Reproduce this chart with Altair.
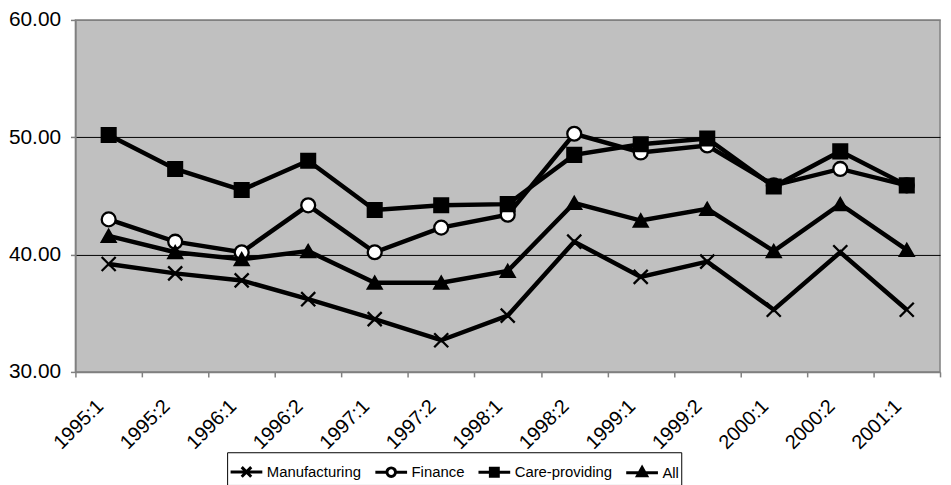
import altair as alt
import pandas as pd

categories = ["1995:1", "1995:2", "1996:1", "1996:2", "1997:1", "1997:2", "1998:1",
              "1998:2", "1999:1", "1999:2", "2000:1", "2000:2", "2001:1"]
series_names = ["Manufacturing", "Finance", "Care-providing", "All"]
manufacturing = [39.2, 38.4, 37.8, 36.2, 34.5, 32.7, 34.8, 41.1, 38.1, 39.4, 35.3, 40.2, 35.3]
finance = [43.0, 41.1, 40.2, 44.2, 40.2, 42.3, 43.4, 50.3, 48.7, 49.3, 45.9, 47.3, 45.9]
care = [50.2, 47.3, 45.5, 48.0, 43.8, 44.2, 44.3, 48.5, 49.4, 49.9, 45.8, 48.8, 45.9]
all_sectors = [41.6, 40.2, 39.6, 40.3, 37.6, 37.6, 38.6, 44.4, 42.9, 43.9, 40.3, 44.3, 40.4]

rows = []
for name, vals in zip(series_names, [manufacturing, finance, care, all_sectors]):
    for c, v in zip(categories, vals):
        rows.append({"period": c, "series": name, "value": v})
df = pd.DataFrame(rows)

font = "Liberation Sans"

x_enc = alt.X(
    "period:O", sort=categories,
    scale=alt.Scale(type="band", paddingInner=0, paddingOuter=0),
    bandPosition=0.5,
    axis=alt.Axis(title=None, labelAngle=-45, labelAlign="right", labelBaseline="middle",
                  labelFontSize=20, labelFont=font, labelColor="black",
                  labelPadding=26, labelOffset=-9, tickBand="extent",
                  tickColor="#808080", tickSize=5, tickWidth=1.5,
                  domainColor="#808080", domainWidth=1.5, grid=False),
)
y_enc = alt.Y(
    "value:Q",
    scale=alt.Scale(domain=[30, 60], nice=False, zero=False),
    axis=alt.Axis(title=None, values=[30, 40, 50, 60], format=".2f",
                  labelFontSize=21, labelFont=font, labelColor="black", labelPadding=10,
                  tickColor="#808080", tickSize=5, tickWidth=1.5,
                  domainColor="#808080", domainWidth=1.5,
                  grid=True, gridWidth=1,
                  gridColor={"condition": {"test": "datum.value == 60 || datum.value == 30",
                                           "value": "#808080"}, "value": "black"}),
)

marker_shapes = ["M-1,-1L1,1M-1,1L1,-1", "circle", "square", "triangle-up"]
marker_fills = ["transparent", "white", "black", "black"]
marker_sizes = [200, 190, 170, 210]

# legend symbols: connecting line + marker (filled markers drawn with strokes)
legend_shapes = [
    "M-1,0H1M-0.3,-0.3L0.3,0.3M-0.3,0.3L0.3,-0.3",
    "M-1,0H-0.27M0.27,0H1M-0.27,0A0.27,0.27,0,1,0,0.27,0A0.27,0.27,0,1,0,-0.27,0Z",
    "M-1,0H1M-0.25,-0.25H0.25V0.25H-0.25ZM-0.25,-0.1H0.25M-0.25,0.1H0.25",
    "M-1,0H1M0,-0.33L0.29,0.19H-0.29ZM-0.2,0.12H0.2M-0.08,-0.14H0.08",
]

base = alt.Chart(df)

lines = base.mark_line(color="black", strokeWidth=4.5).encode(
    x=x_enc, y=y_enc, detail="series:N",
    order=alt.Order("period_idx:Q"),
).transform_calculate(period_idx="indexof(" + str(categories) + ", datum.period)")

points = base.mark_point(filled=True, stroke="black", strokeWidth=2.3, opacity=1).encode(
    x=x_enc, y=y_enc,
    shape=alt.Shape("series:N", scale=alt.Scale(domain=series_names, range=marker_shapes), legend=None),
    fill=alt.Fill("series:N", scale=alt.Scale(domain=series_names, range=marker_fills), legend=None),
    size=alt.Size("series:N", scale=alt.Scale(domain=series_names, range=marker_sizes), legend=None),
)

legend_layer = base.transform_filter("false").mark_point(
    filled=False, color="black", strokeWidth=3, opacity=1
).encode(
    x=x_enc, y=y_enc,
    shape=alt.Shape(
        "series:N", sort=series_names,
        scale=alt.Scale(domain=series_names, range=legend_shapes),
        legend=alt.Legend(
            title=None, orient="none", legendX=153, legendY=436, direction="horizontal",
            columns=4, symbolSize=1024, symbolStrokeWidth=3, symbolStrokeColor="black",
            symbolFillColor="transparent", symbolOpacity=1,
            labelFontSize=15, labelFont=font, labelColor="black",
            labelOffset=3, columnPadding=7, padding=2, strokeColor="black", fillColor="white",
        ),
    ),
)

chart = alt.layer(lines, points, legend_layer).resolve_scale(
    shape="independent", fill="independent", size="independent"
).properties(
    width=872, height=355,
    padding={"left": 68, "top": 10, "right": 3, "bottom": 112},
    autosize=alt.AutoSizeParams(type="none"),
    background="white",
).configure_view(fill="#C0C0C0", stroke="#808080", strokeWidth=1.5)

chart.save("out.html", embed_options={"renderer": "svg", "actions": False})
